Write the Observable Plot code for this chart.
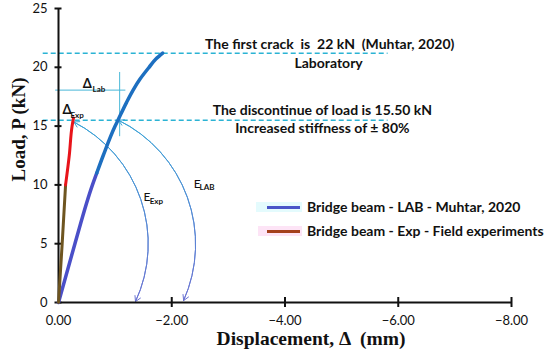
<!DOCTYPE html>
<html>
<head>
<meta charset="utf-8">
<script src="https://cdn.jsdelivr.net/npm/d3@7"></script>
<script src="https://cdn.jsdelivr.net/npm/@observablehq/plot@0.6"></script>
<style>
  html, body { margin: 0; padding: 0; background: #fff; }
  #wrap { position: relative; width: 550px; height: 361px; overflow: hidden; }
  #legend { position: absolute; left: 0; top: 0; font-family: Lato, sans-serif; font-weight: 700; font-size: 14px; color: #111; }
  .lg-row { position: absolute; white-space: nowrap; }
  .lg-bg { position: absolute; }
  .lg-sw { position: absolute; height: 3px; }
</style>
</head>
<body>
<div id="wrap"><div id="legend"></div></div>
<script>
// ---- data ----
const loadTicks = [0, 5, 10, 15, 20, 25];
const dispTicks = [0, -2, -4, -6, -8];

// Bridge beam - LAB - Muhtar, 2020 (lower part, upper part)
const labLowDisp = [0, -0.29, -0.60, -0.675];
const labLowLoad = [0, 5, 10, 11];
const labUpDisp = [-0.675, -0.79, -1.00, -1.05, -1.20, -1.31, -1.44, -1.60, -1.72, -1.84];
const labUpLoad = [11, 12.5, 15, 15.5, 17, 18, 19, 20, 20.7, 21.2];

// Bridge beam - Exp - Field experiments (lower part, upper part)
const expLowDisp = [0, -0.065, -0.125];
const expLowLoad = [0, 5, 10];
const expUpDisp = [-0.125, -0.19, -0.24, -0.265];
const expUpLoad = [10, 12.5, 15, 15.7];

// reference levels (dashed)
const refLevels = [21.2, 15.5];
const refFrom = 0.27, refTo = -5.82;

// annotation texts
const noteTexts = ["The first crack  is  22 kN  (Muhtar, 2020)", "Laboratory",
                   "The discontinue of load is 15.50 kN", "Increased stiffness of ± 80%"];
const noteX = [-4.79, -4.77, -4.66, -4.66];
const noteY = [21.92, 20.3, 16.3, 14.8];

// delta bracket
const bracketH = {x1: 0.05, x2: -1.19, y: 18.06};
const bracketV = {x: -1.08, y1: 19.56, y2: 14.1};

// symbol labels: main letter and subscript
const symMain = ["Δ", "Δ", "E", "E"];
const symMainX = [-0.43, -0.07, -1.50, -2.39];
const symMainY = [18.62, 16.37, 9.0, 10.1];
const symSub = ["Lab", "Exp", "Exp", "LAB"];
const symSubX = [-0.60, -0.21, -1.61, -2.49];
const symSubY = [18.15, 15.9, 8.6, 9.78];
const symBold = [true, true, false, false];

// stiffness arcs (top tip, bottom tip)
const arcTopX = [-0.27, -1.06];
const arcTopY = [15.35, 15.5];
const arcBotX = [-1.36, -2.21];
const arcBotY = [0.08, 0.17];

// legend
const seriesNames = ["Bridge beam - LAB - Muhtar, 2020", "Bridge beam - Exp - Field experiments"];
const seriesColors = ["#4a55c8", "#a4401c"];

// ---- build ----
const zip = (xs, ys) => xs.map((x, i) => ({x, y: ys[i]}));
const fmtX = d => d === 0 ? "0.00" : "\u2212" + Math.abs(d).toFixed(2);
const tickFont = "Lato, sans-serif";
const serif = "'Liberation Serif', 'Times New Roman', serif";
const arcs = arcTopX.map((x, i) => ({x1: x, y1: arcTopY[i], x2: arcBotX[i], y2: arcBotY[i]}));
const syms = symMain.map((t, i) => ({t, x: symMainX[i], y: symMainY[i], s: symSub[i], sx: symSubX[i], sy: symSubY[i], b: symBold[i]}));

const svg = Plot.plot({
  width: 550,
  height: 361,
  marginLeft: 58,
  marginRight: 39,
  marginTop: 8,
  marginBottom: 59,
  x: {domain: [0, -8], axis: null},
  y: {domain: [0, 25], axis: null},
  style: {background: "white", color: "#111"},
  marks: [
    // dashed reference lines
    Plot.ruleY(refLevels, {x1: refFrom, x2: refTo, stroke: "#2bb3d4", strokeWidth: 1.5, strokeDasharray: "5,3"}),
    // bracket
    Plot.ruleY([bracketH], {y: "y", x1: "x1", x2: "x2", stroke: "#4ab8d8", strokeWidth: 1}),
    Plot.ruleX([bracketV], {x: "x", y1: "y1", y2: "y2", stroke: "#4ab8d8", strokeWidth: 1}),
    // arcs (double headed)
    Plot.arrow(arcs, {x1: "x1", y1: "y1", x2: "x2", y2: "y2", bend: 44, stroke: "url(#arcGrad)", strokeWidth: 1, headLength: 9}),
    Plot.arrow(arcs, {x1: "x2", y1: "y2", x2: "x1", y2: "y1", bend: -44, stroke: "url(#arcGrad)", strokeWidth: 1, headLength: 9}),
    // axes lines
    Plot.ruleX([0], {stroke: "#111", strokeWidth: 2}),
    Plot.ruleY([0], {stroke: "#111", strokeWidth: 2}),
    Plot.axisY(loadTicks, {tickSize: 7, dx: 3.5, strokeWidth: 2, stroke: "#111", tickFormat: () => ""}),
    Plot.axisX(dispTicks.filter(d => d !== 0), {tickSize: 10, dy: -5, strokeWidth: 2, stroke: "#111", tickFormat: () => ""}),
    Plot.axisY(loadTicks, {tickSize: 0, tickPadding: 11, fontSize: 13, fontFamily: tickFont, fill: "#111"}),
    Plot.axisX(dispTicks, {tickSize: 0, tickPadding: 13, tickFormat: fmtX, fontSize: 13, fontFamily: tickFont, fill: "#111"}),
    // series
    Plot.line(zip(labLowDisp, labLowLoad), {x: "x", y: "y", stroke: "#4a4fc8", strokeWidth: 3.5, curve: "monotone-y"}),
    Plot.line(zip(labUpDisp, labUpLoad), {x: "x", y: "y", stroke: "#1d6fc0", strokeWidth: 3.5, curve: "monotone-y"}),
    Plot.line(zip(expLowDisp, expLowLoad), {x: "x", y: "y", stroke: "#6e5520", strokeWidth: 3}),
    Plot.line(zip(expUpDisp, expUpLoad), {x: "x", y: "y", stroke: "#e8141a", strokeWidth: 3, curve: "monotone-y"}),
    // notes
    Plot.text(noteTexts.map((t, i) => ({t, x: noteX[i], y: noteY[i]})), {x: "x", y: "y", text: "t", fontSize: 14, fontWeight: 700, fontFamily: "Lato, sans-serif", fill: "#111"}),
    // symbol labels
    Plot.text(syms.filter(d => d.b), {x: "x", y: "y", text: "t", textAnchor: "start", fontSize: 13, fontWeight: 700, fontFamily: "Lato, sans-serif", fill: "#111"}),
    Plot.text(syms.filter(d => !d.b), {x: "x", y: "y", text: "t", textAnchor: "start", fontSize: 12, fontFamily: "Lato, sans-serif", fill: "#111"}),
    Plot.text(syms, {x: "sx", y: "sy", text: "s", textAnchor: "start", fontSize: 8, fontWeight: 700, fontFamily: "Lato, sans-serif", fill: "#111"}),
    // axis titles
    Plot.text(["Load, P (kN)"], {frameAnchor: "left", rotate: -90, dx: -40, dy: 26, fontSize: 19, fontWeight: 700, fontFamily: serif, fill: "#111"}),
    Plot.text(["Displacement, Δ  (mm)"], {frameAnchor: "bottom", dx: 26, dy: 42, fontSize: 19.5, fontWeight: 700, fontFamily: serif, fill: "#111"})
  ]
});

const ns = "http://www.w3.org/2000/svg";
const defs = document.createElementNS(ns, "defs");
defs.innerHTML = '<linearGradient id="arcGrad" x1="0" y1="0" x2="0" y2="1"><stop offset="0" stop-color="#3aa4d6"/><stop offset="1" stop-color="#6b72d2"/></linearGradient>';
svg.insertBefore(defs, svg.firstChild);
svg.style.position = "absolute";
svg.style.left = "0";
svg.style.top = "0";
const wrap = document.getElementById("wrap");
wrap.insertBefore(svg, wrap.firstChild);

// legend overlay
const legend = document.getElementById("legend");
const bgColors = ["#e4fbfd", "#fde4f6"];
seriesNames.forEach((name, i) => {
  const top = 201 + i * 24;
  const bg = document.createElement("div");
  bg.className = "lg-bg";
  Object.assign(bg.style, {left: (256 + i * 2) + "px", top: (top + 1) + "px", width: (46 - i * 2) + "px", height: "10px", background: bgColors[i]});
  legend.appendChild(bg);
  const sw = document.createElement("div");
  sw.className = "lg-sw";
  Object.assign(sw.style, {left: "267px", top: (top + 5) + "px", width: "33px", background: seriesColors[i]});
  legend.appendChild(sw);
  const tx = document.createElement("div");
  tx.className = "lg-row";
  Object.assign(tx.style, {left: "307px", top: (top - 2) + "px", lineHeight: "16px"});
  tx.textContent = name;
  legend.appendChild(tx);
});
</script>
</body>
</html>
